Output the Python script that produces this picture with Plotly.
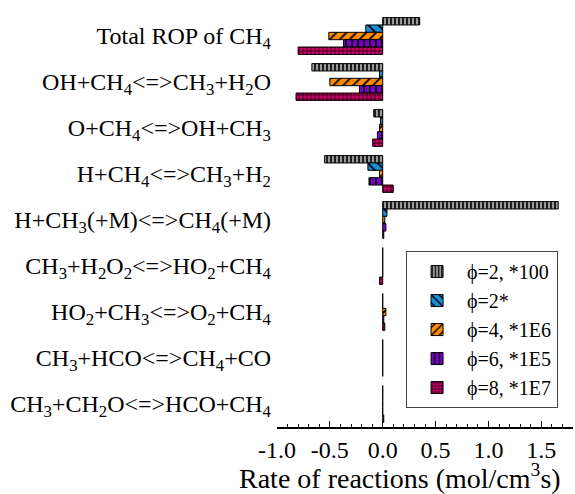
import plotly.graph_objects as go

categories = [
    "Total ROP of CH4",
    "OH+CH4<=>CH3+H2O",
    "O+CH4<=>OH+CH3",
    "H+CH4<=>CH3+H2",
    "H+CH3(+M)<=>CH4(+M)",
    "CH3+H2O2<=>HO2+CH4",
    "HO2+CH3<=>O2+CH4",
    "CH3+HCO<=>CH4+CO",
    "CH3+CH2O<=>HCO+CH4",
]
tick_labels = [
    "Total ROP of CH<sub>4</sub>",
    "OH+CH<sub>4</sub>&lt;=&gt;CH<sub>3</sub>+H<sub>2</sub>O",
    "O+CH<sub>4</sub>&lt;=&gt;OH+CH<sub>3</sub>",
    "H+CH<sub>4</sub>&lt;=&gt;CH<sub>3</sub>+H<sub>2</sub>",
    "H+CH<sub>3</sub>(+M)&lt;=&gt;CH<sub>4</sub>(+M)",
    "CH<sub>3</sub>+H<sub>2</sub>O<sub>2</sub>&lt;=&gt;HO<sub>2</sub>+CH<sub>4</sub>",
    "HO<sub>2</sub>+CH<sub>3</sub>&lt;=&gt;O<sub>2</sub>+CH<sub>4</sub>",
    "CH<sub>3</sub>+HCO&lt;=&gt;CH<sub>4</sub>+CO",
    "CH<sub>3</sub>+CH<sub>2</sub>O&lt;=&gt;HCO+CH<sub>4</sub>",
]
x_tick_vals = [-1.0, -0.5, 0.0, 0.5, 1.0, 1.5]
x_tick_text = ["-1.0", "-0.5", "0.0", "0.5", "1.0", "1.5"]

series_names = ["ϕ=2, *100", "ϕ=2*", "ϕ=4, *1E6", "ϕ=6, *1E5", "ϕ=8, *1E7"]
phi2_x100 = [0.35, -0.67, -0.085, -0.55, 1.66, 0.0, 0.0, 0.0, 0.0]
phi2 = [-0.16, -0.03, -0.02, -0.14, 0.04, 0.0, 0.0, 0.0, 0.0]
phi4_x1e6 = [-0.51, -0.50, -0.03, -0.03, 0.02, 0.0, 0.03, 0.0, 0.0]
phi6_x1e5 = [-0.37, -0.22, -0.05, -0.13, 0.03, 0.0, 0.01, 0.0, 0.0]
phi8_x1e7 = [-0.80, -0.82, -0.095, 0.10, 0.01, -0.03, 0.02, 0.0, 0.01]
series_values = [phi2_x100, phi2, phi4_x1e6, phi6_x1e5, phi8_x1e7]

styles = [
    dict(bg="#9a9a9a", shape="|", size=4, solidity=0.4),
    dict(bg="#1a8fd6", shape="\\", size=7, solidity=0.25),
    dict(bg="#ff8c00", shape="/", size=7, solidity=0.25),
    dict(bg="#7a00c8", shape="|", size=6, solidity=0.3),
    dict(bg="#d0006a", shape="+", size=4, solidity=0.3),
]

FONT = "Liberation Serif"
fig = go.Figure()
for name, vals, st in zip(series_names, series_values, styles):
    fig.add_trace(go.Bar(
        x=vals, y=categories, orientation="h", name=name,
        marker=dict(
            color=st["bg"],
            line=dict(color="black", width=1),
            pattern=dict(shape=st["shape"], size=st["size"], solidity=st["solidity"],
                         fgcolor="black", bgcolor=st["bg"], fillmode="replace"),
        ),
    ))

n = len(categories)
xmin, xmax = -1.0, 1.8
zero_pos = (0 - xmin) / (xmax - xmin)
boundaries = [i - 0.5 for i in range(n + 1)]

fig.update_layout(
    width=575, height=494,
    margin=dict(l=277, r=2, t=13, b=67),
    paper_bgcolor="white", plot_bgcolor="white",
    font=dict(family=FONT, color="black", size=20),
    barmode="group", bargap=0.2, bargroupgap=0,
    showlegend=True,
    legend=dict(x=0.436, y=0.425, xanchor="left", yanchor="top",
                bordercolor="#444", borderwidth=1, bgcolor="white",
                font=dict(family=FONT, size=20), itemwidth=50,
                tracegroupgap=0, traceorder="normal"),
    xaxis=dict(range=[xmin, xmax], tickvals=x_tick_vals, ticktext=x_tick_text,
               ticks="inside", ticklen=6, tickcolor="black",
               minor=dict(dtick=0.1, ticks="inside", ticklen=3, tickcolor="black"),
               showline=True, linecolor="black", linewidth=1.5,
               showgrid=False, zeroline=False,
               tickfont=dict(size=24, family=FONT)),
    yaxis=dict(type="category", categoryarray=categories, range=[n - 0.5, -0.5],
               tickvals=categories, ticktext=tick_labels,
               ticks="", showline=False, showgrid=False, zeroline=False,
               ticklabelstandoff=5,
               tickfont=dict(size=24, family=FONT)),
    yaxis2=dict(overlaying="y", anchor="free", position=zero_pos, side="left",
                range=[n - 0.5, -0.5], tickvals=boundaries, ticks="outside",
                ticklen=4, tickcolor="black", showticklabels=False,
                showline=True, linecolor="black", linewidth=1.5,
                showgrid=False, zeroline=False),
    yaxis3=dict(overlaying="y", anchor="free", position=zero_pos, side="left",
                range=[n - 0.5, -0.5], tickvals=boundaries, ticks="inside",
                ticklen=4, tickcolor="black", showticklabels=False,
                showline=False, showgrid=False, zeroline=False),
    annotations=[dict(text="Rate of reactions (mol/cm<sup>3</sup>s)",
                      xref="paper", yref="paper", x=0.417, y=-0.119,
                      xanchor="center", yanchor="middle", showarrow=False,
                      font=dict(size=28, family=FONT))],
)

fig.write_html("out.html", config={"displayModeBar": False},
               post_script="document.body.style.margin='0px';")
